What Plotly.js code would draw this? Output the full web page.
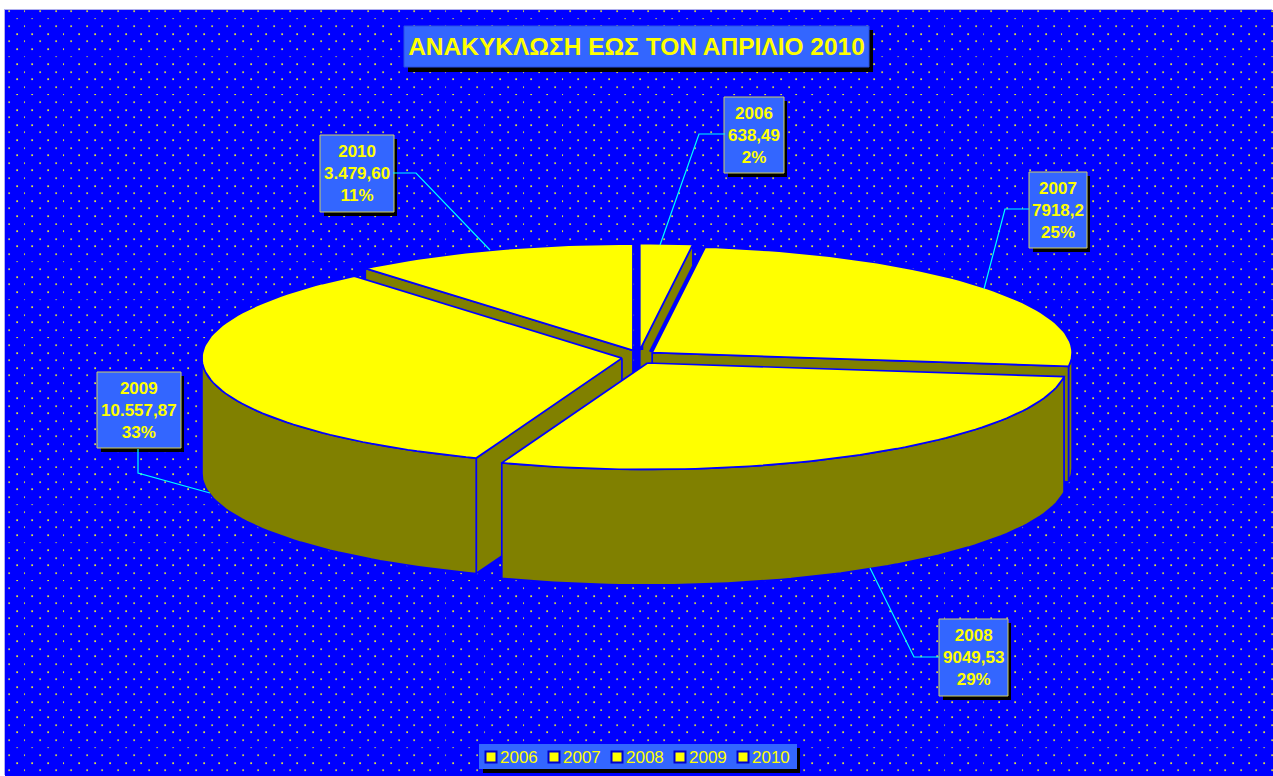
<!DOCTYPE html>
<html>
<head>
<meta charset="utf-8">
<script src="https://cdn.plot.ly/plotly-3.0.1.min.js"></script>
<style>
html,body{margin:0;padding:0;background:#fff;overflow:hidden}
#stage{position:absolute;left:0;top:0;width:1273px;height:776px}
#bg{position:absolute;left:5px;top:10px;width:1268px;height:766px;background-color:#0000ff;box-shadow:-1px -1px 0 #b0b0ee;
background-image:url("data:image/svg+xml;utf8,<svg xmlns='http://www.w3.org/2000/svg' width='15.6' height='15.2'><rect x='3.2' y='0.3' width='1.7' height='1.7' fill='%23c8c850'/><rect x='11' y='7.9' width='1.7' height='1.7' fill='%23e0e040'/></svg>");background-size:15.6px 15.2px}
#chart{position:absolute;left:0;top:0;width:1273px;height:776px}
</style>
</head>
<body>
<div id="stage"><div id="bg"></div><div id="chart"></div></div>
<script>
const years = ['2006','2007','2008','2009','2010'];
const values = [638.49, 7918.2, 9049.53, 10557.87, 3479.60];
const valueLabels = ['638,49','7918,2','9049,53','10.557,87','3.479,60'];
const percents = ['2%','25%','29%','33%','11%'];
const titleText = 'ΑΝΑΚΥΚΛΩΣΗ ΕΩΣ ΤΟΝ ΑΠΡΙΛΙΟ 2010';

// projection of the tilted, exploded pie onto the pixel-scaled hidden axes
const CX=638.7, CY=357, RX=420, RY=106.5, DEPTH=115.5, PULLX=17, PULLY=7;
const YELLOW='#ffff00', OLIVE='#808000', BLUE='#0000ff', PANEL='#3366ff', CYAN='#00ffff', EDGE='#d0d060';
const total = values.reduce((a,b)=>a+b,0);
const rad = d=>d*Math.PI/180;
let acc=0;
const slices = values.map((v,i)=>{
  const a0=acc/total*360; acc+=v; const a1=acc/total*360; const mid=(a0+a1)/2;
  return {i,a0,a1,ax:CX+PULLX*Math.sin(rad(mid)),ay:CY-PULLY*Math.cos(rad(mid))};
});
const rim=(s,a)=>[s.ax+RX*Math.sin(rad(a)),s.ay-RY*Math.cos(rad(a))];
function arc(s,from,to,dy){
  const pts=[],n=Math.max(2,Math.ceil(Math.abs(to-from)/1.5));
  for(let k=0;k<=n;k++){const p=rim(s,from+(to-from)*k/n);pts.push([p[0],p[1]+dy]);}
  return pts;
}
const traces=[];
function poly(pts,fill,name){
  const xs=pts.map(p=>p[0]),ys=pts.map(p=>p[1]);
  xs.push(xs[0]);ys.push(ys[0]);
  traces.push({type:'scatter',mode:'lines',x:xs,y:ys,fill:'toself',fillcolor:fill,
    line:{color:BLUE,width:1.7},hoverinfo:'skip',showlegend:false,name:name});
}
function cutFace(s,a){
  const t=rim(s,a);
  poly([[s.ax,s.ay],t,[t[0],t[1]+DEPTH],[s.ax,s.ay+DEPTH]],OLIVE,years[s.i]+' cut');
}
function drawSlice(s){
  if(Math.sin(rad(s.a1))>0.001) cutFace(s,s.a1);
  if(Math.sin(rad(s.a0))<-0.001) cutFace(s,s.a0);
  const from=Math.max(s.a0,90),to=Math.min(s.a1,270);
  if(to>from){
    const top=arc(s,from,to,0),bot=arc(s,to,from,DEPTH);
    poly(top.concat(bot),OLIVE,years[s.i]+' wall');
  }
  // the back-facing cut of the two upper-right slices shows as a solid blue band
  if(s.a0<90){
    const t=rim(s,s.a0);
    traces.push({type:'scatter',mode:'lines',x:[s.ax,t[0]],y:[s.ay,t[1]],line:{color:BLUE,width:7},
      hoverinfo:'skip',showlegend:false,name:years[s.i]+' back'});
  }
  poly([[s.ax,s.ay]].concat(arc(s,s.a0,s.a1,0)),YELLOW,years[s.i]);
}
[0,4,1,3,2].forEach(i=>drawSlice(slices[i]));

// legend keys
const legendX=[491,554,617,680,743];
traces.push({type:'scatter',mode:'markers',x:legendX,y:years.map(()=>757),
  marker:{symbol:'square',size:11,color:YELLOW,line:{color:'#0000cc',width:2}},hoverinfo:'skip',showlegend:false,name:'legend keys'});

const boxes=[[724,97,784,173],[1029,172,1087,248],[939,619,1008,696],[97,372,181,448],[320,135,394,212]];
const leaders=['M660,245L699,134L725,134','M984,289L1005,209L1029,209','M870,568L914,657L939,657','M210,493L138,473L138,449','M490,250L416,173L393,173'];
const shapes=[],annotations=[];
const rect=(x0,y0,x1,y1,fill,line)=>shapes.push({type:'rect',layer:'below',xref:'x',yref:'y',x0,y0,x1,y1,fillcolor:fill,line:line||{width:0}});
leaders.forEach(p=>shapes.push({type:'path',xref:'x',yref:'y',path:p,line:{color:CYAN,width:1.2}}));
boxes.forEach((b,i)=>{
  rect(b[0]+4,b[1]+4,b[2]+3,b[3]+4,'#000000');
  rect(b[0],b[1],b[2],b[3],PANEL,{color:EDGE,width:1});
  annotations.push({xref:'x',yref:'y',x:(b[0]+b[2])/2,y:(b[1]+b[3])/2,xanchor:'center',yanchor:'middle',showarrow:false,
    align:'center',text:years[i]+'<br>'+valueLabels[i]+'<br>'+percents[i],
    font:{family:'Liberation Sans, Arial, sans-serif',size:17,color:YELLOW,weight:700}});
});
rect(408,30,873,72,'#000000');
rect(404,26,869,67,PANEL,{color:'#2a50e0',width:1});
rect(483,748,800,773,'#000000');
rect(479,744,797,769,PANEL);
years.forEach((y,i)=>annotations.push({xref:'x',yref:'y',x:legendX[i]+7,y:757,xanchor:'left',yanchor:'middle',showarrow:false,
  text:y,font:{family:'Liberation Sans, Arial, sans-serif',size:17,color:YELLOW}}));

const layout={
  width:1273,height:776,margin:{l:0,r:0,t:0,b:0},paper_bgcolor:'rgba(0,0,0,0)',plot_bgcolor:'rgba(0,0,0,0)',
  showlegend:false,dragmode:false,hovermode:false,
  title:{text:titleText,x:636.5/1273,xanchor:'center',y:1-46/776,yanchor:'middle',
    font:{family:'Liberation Sans, Arial, sans-serif',size:24.5,color:YELLOW,weight:700}},
  xaxis:{range:[0,1273],visible:false,fixedrange:true},
  yaxis:{range:[776,0],visible:false,fixedrange:true},
  shapes,annotations
};
Plotly.newPlot('chart',traces,layout,{displayModeBar:false,staticPlot:true});
</script>
</body>
</html>
